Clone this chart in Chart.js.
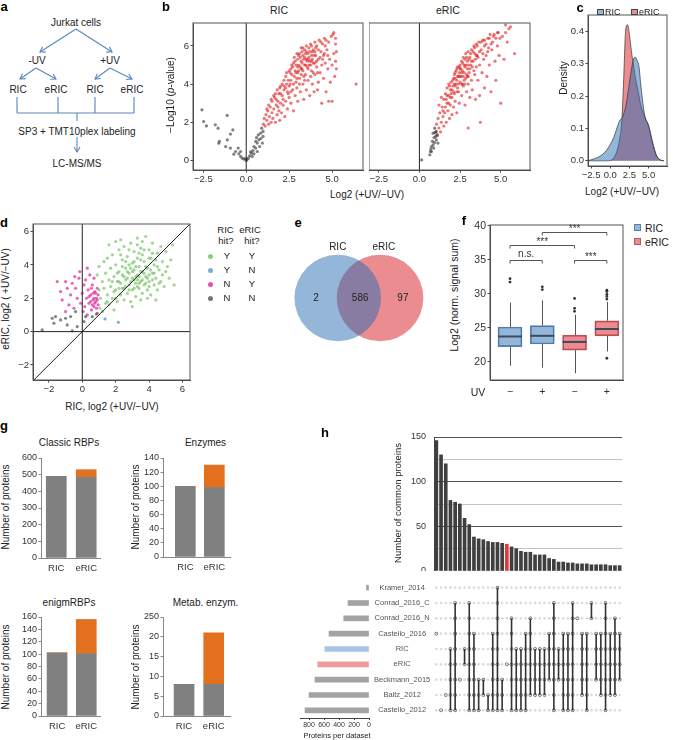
<!DOCTYPE html>
<html>
<head>
<meta charset="utf-8">
<title>RIC vs eRIC</title>
<script src="https://cdn.jsdelivr.net/npm/chart.js@4.4.1/dist/chart.umd.min.js"></script>
<style>
  body { margin: 0; background: #fff; }
  #fig { position: relative; width: 674px; height: 740px; overflow: hidden; background: #fff;
         font-family: "Liberation Sans", Arial, Helvetica, sans-serif; color: #222; }
  #fig canvas { position: absolute; }
  .t { position: absolute; white-space: nowrap; line-height: 1; z-index: 2; }
  .sq { position: absolute; box-sizing: border-box; border: 1px solid #444; z-index: 2; }
  .dot { position: absolute; width: 5px; height: 5px; border-radius: 50%; z-index: 2; }
</style>
</head>
<body>
<div id="fig">
  <!-- a: workflow -->
  <svg width="165" height="175" style="position:absolute;left:0;top:0">
    <defs>
      <marker id="ah" markerWidth="8" markerHeight="8" refX="6" refY="4" orient="auto" markerUnits="userSpaceOnUse">
        <path d="M1,1 L6,4 L1,7" fill="none" stroke="#5b86bf" stroke-width="1.1"/>
      </marker>
    </defs>
    <g stroke="#5b86bf" stroke-width="1.1" fill="none">
      <line x1="76" y1="29" x2="40" y2="52" marker-end="url(#ah)"/>
      <line x1="76" y1="29" x2="112" y2="52" marker-end="url(#ah)"/>
      <line x1="36" y1="68" x2="20" y2="79" marker-end="url(#ah)"/>
      <line x1="36" y1="68" x2="56" y2="79" marker-end="url(#ah)"/>
      <line x1="110" y1="68" x2="95" y2="79" marker-end="url(#ah)"/>
      <line x1="110" y1="68" x2="132" y2="79" marker-end="url(#ah)"/>
      <path d="M17,97 V113 M58,97 V113 M95,97 V113 M134,97 V113 M17,113 H134 M77,113 V121"/>
      <line x1="77" y1="137" x2="77" y2="152" marker-end="url(#ah)"/>
    </g>
    <g font-size="10" fill="#222" text-anchor="middle" font-family="Liberation Sans, Arial, sans-serif">
      <text x="76" y="26">Jurkat cells</text>
      <text x="37" y="63.5">-UV</text>
      <text x="110" y="63.5">+UV</text>
      <text x="18" y="93">RIC</text>
      <text x="56" y="93">eRIC</text>
      <text x="95" y="93">RIC</text>
      <text x="132" y="93">eRIC</text>
      <text x="77" y="134.5">SP3 + TMT10plex labeling</text>
      <text x="77" y="166.5">LC-MS/MS</text>
    </g>
  </svg>
</div>
<script>
// ---------- b: volcano plots [log2(+UV/-UV), -log10 p] ----------
const ricVolcanoNS = [[-2.58,2.65],[-2.48,2.04],[-2.32,1.81],[-1.8,1.87],[-1.64,1.69],[-1.56,1.0],[-1.6,0.9],
  [-1.11,2.36],[-0.92,1.38],[-0.78,1.6],[-1.1,1.08],[-1.2,0.73],[-0.92,0.65],[-0.62,0.47],[-0.43,0.35],
  [-0.33,0.21],[-0.23,0.12],[-0.14,0.07],[0,0],[-0.72,0.33],[-0.47,0.65],[-0.33,0.47],[0.12,0.12],[0.2,0.24],
  [0.31,0.38],[0.39,0.52],[0.45,0.73],[0.55,0.65],[0.64,0.91],[0.74,1.08],[0.7,1.34],[0.84,1.43],[0.9,1.69],
  [0.98,1.26],[0.78,0.73],[0.64,0.47],[0.45,0.35],[0.94,0.91],[0.98,1.52],[0.55,1.0],[0.35,0.21],[0.05,0.05],
  [-0.05,0.1],[0.6,1.2],[0.85,1.15],[0.25,0.45]];
const ricVolcanoHit = [[1.0,1.9],[1.05,2.2],[1.1,1.8],[1.15,2.4],[1.2,2.1],[1.25,2.6],[1.3,1.9],[1.35,2.3],
  [1.4,2.8],[1.45,2.0],[1.5,2.5],[1.5,3.1],[1.2,2.7],[1.3,2.9],[1.45,3.2],
  [1.55,2.2],[1.6,2.7],[1.65,3.3],[1.7,2.0],[1.7,3.5],[1.75,2.9],[1.8,2.4],[1.8,3.7],[1.85,3.1],[1.9,2.6],
  [1.9,3.5],[1.95,2.1],[2.0,3.9],[2.0,3.0],[1.6,3.4],[1.75,3.2],[1.95,3.8],
  [2.05,2.5],[2.1,3.4],[2.1,4.0],[2.15,2.9],[2.2,4.2],[2.2,3.7],[2.25,2.3],[2.3,4.4],[2.3,3.1],[2.35,4.6],
  [2.4,3.6],[2.4,2.7],[2.45,4.2],[2.5,3.9],[2.5,4.7],[2.5,3.3],[2.2,3.9],[2.35,4.0],
  [2.55,4.6],[2.6,3.0],[2.6,4.2],[2.65,5.0],[2.7,3.7],[2.7,4.9],[2.75,2.6],[2.8,4.4],[2.8,5.4],[2.85,3.4],
  [2.9,5.0],[2.9,4.1],[2.95,5.6],[3.0,4.6],[3.0,3.1],[3.0,5.3],[2.6,4.8],[2.75,5.1],[2.85,4.7],[2.95,3.8],
  [3.05,5.0],[3.1,4.3],[3.1,5.6],[3.15,3.6],[3.2,5.2],[3.2,5.9],[3.25,4.8],[3.3,4.0],[3.3,5.5],[3.35,3.2],
  [3.4,5.0],[3.4,5.8],[3.45,4.5],[3.5,5.3],[3.5,6.0],[3.5,3.7],[3.15,5.4],[3.25,5.7],[3.35,5.3],[3.45,5.6],
  [3.05,4.7],[3.3,4.7],
  [3.55,4.9],[3.6,5.6],[3.6,4.2],[3.65,5.9],[3.7,5.2],[3.7,3.4],[3.75,6.1],[3.8,4.7],[3.8,5.5],[3.85,4.0],
  [3.9,5.8],[3.9,5.1],[3.95,3.6],[4.0,6.2],[4.0,4.5],[3.65,5.4],[3.85,5.3],[3.75,4.4],
  [4.05,5.5],[4.1,4.9],[4.1,6.0],[4.15,3.7],[4.2,5.3],[4.25,6.3],[4.3,4.6],[4.35,5.7],[4.4,3.0],[4.4,5.0],
  [4.45,6.1],[4.5,4.3],[4.5,5.5],[4.2,4.1],
  [4.55,6.4],[4.6,5.1],[4.65,3.6],[4.7,5.8],[4.75,4.8],[4.8,6.2],[4.85,5.3],[4.9,4.1],[4.95,6.5],[5.0,5.0],
  [4.6,6.0],[4.8,3.1],
  [5.05,6.6],[5.1,5.6],[5.15,4.4],[5.2,6.1],[5.0,3.1],[5.2,5.2],[5.1,6.7],[5.25,5.7],[5.25,4.8],[5.2,6.4],
  [2.55,4.0],[2.65,4.5],[2.75,4.0],[2.85,5.2],[2.95,4.3],[3.05,5.5],[3.1,4.0],[3.15,4.9],[3.2,4.5],[3.25,5.1],
  [3.3,5.9],[3.35,4.4],[3.4,5.4],[3.45,5.0],[3.5,5.7],[3.55,5.2],[3.6,4.8],[3.65,5.0],[3.7,5.7],[3.75,5.0],
  [3.8,6.0],[3.85,5.7],[3.9,4.6],[3.95,5.5],[4.0,5.1],[4.05,5.9],[4.1,5.2],[4.15,4.6],[4.2,5.8],[4.3,5.4],
  [4.35,6.2],[4.45,5.3],[4.55,5.6],[4.65,6.3],[4.75,5.5],[2.45,3.5],[2.3,3.8],[2.15,3.2],[2.0,3.5],[1.85,2.8],
  [2.6,3.6],[2.9,4.6],[3.0,4.9],[3.2,4.8],[3.4,4.2],[3.6,5.3],[3.8,5.2],[4.0,5.7],
  [6.4,4.0]];
const ericVolcanoNS = [[0.14,0.03],[0.64,0.3],[0.68,0.47],[0.74,0.73],[0.84,0.82],[0.94,0.94],[1.04,1.08],
  [0.88,0.65],[0.8,1.0],[0.84,1.43],[0.94,1.69],[1.04,1.52],[1.14,0.91],[1.0,1.26],[0.74,0.47],[0.9,1.2],
  [1.1,1.35],[0.7,0.6],[0.95,1.45]];
const ericVolcanoHit = [[1.0,1.5],[1.05,1.9],[1.1,1.3],[1.15,2.2],[1.2,1.7],[1.25,2.5],[1.3,1.5],[1.35,2.0],
  [1.4,2.8],[1.45,2.3],[1.5,3.2],[1.5,1.8],[1.2,2.9],[1.35,3.3],[1.45,2.6],
  [1.55,2.5],[1.6,3.5],[1.65,2.0],[1.7,3.0],[1.7,3.8],[1.75,2.6],[1.8,3.4],[1.8,4.0],[1.85,2.2],[1.9,3.7],
  [1.9,2.9],[1.95,4.1],[2.0,3.3],[2.0,2.4],[1.65,3.2],[1.85,3.9],[1.95,3.5],
  [2.05,4.2],[2.1,3.6],[2.1,2.8],[2.15,4.5],[2.2,3.9],[2.2,3.1],[2.25,4.7],[2.3,4.2],[2.3,2.5],[2.35,4.9],
  [2.4,3.6],[2.4,4.4],[2.45,3.0],[2.5,4.8],[2.5,4.1],[2.5,5.0],[2.2,4.3],[2.35,3.8],[2.45,4.6],[2.15,4.0],
  [2.55,4.4],[2.6,5.2],[2.6,3.4],[2.65,4.7],[2.7,3.9],[2.7,5.4],[2.75,4.2],[2.8,2.9],[2.8,4.9],[2.85,5.6],
  [2.9,3.6],[2.9,4.5],[2.95,5.2],[3.0,4.0],[3.0,5.7],[3.0,1.7],[2.65,4.0],[2.75,4.6],[2.85,4.3],[2.95,4.8],
  [3.05,4.6],[3.1,5.4],[3.1,3.3],[3.15,5.0],[3.2,5.8],[3.2,4.2],[3.25,3.7],[3.3,5.2],[3.35,6.0],[3.4,4.5],
  [3.4,5.6],[3.45,3.2],[3.5,4.9],[3.5,6.1],[3.25,4.9],[3.45,5.3],
  [3.55,5.5],[3.6,4.2],[3.65,6.2],[3.7,5.0],[3.7,3.4],[3.75,2.0],[3.8,5.8],[3.85,4.6],[3.9,6.3],[3.95,5.3],
  [4.0,3.8],[4.0,6.0],
  [4.1,5.5],[4.15,4.4],[4.2,6.4],[4.3,5.0],[4.35,6.6],[4.4,3.6],[4.45,5.8],[4.5,6.2],[4.25,5.9],
  [4.6,6.6],[4.65,5.2],[4.7,4.2],[4.8,6.0],[4.85,6.7],[4.9,5.5],[5.0,3.0],[4.95,6.4],
  [5.1,6.5],[5.2,5.3],[5.3,7.1],[5.4,6.2],[5.5,6.9],[5.6,7.0],[5.85,5.6],[5.3,6.7],
  [2.0,3.7],[2.05,3.9],[2.1,4.3],[2.15,3.5],[2.2,4.6],[2.25,4.0],[2.3,3.6],[2.35,4.4],[2.4,4.0],[2.45,4.9],
  [2.5,4.4],[2.55,4.8],[2.6,4.0],[2.65,5.1],[2.7,4.4],[2.75,5.0],[2.8,4.0],[2.85,5.0],[2.9,5.4],[2.95,4.4],
  [3.0,5.0],[3.05,5.3],[3.1,4.8],[3.15,5.6],[3.2,5.2],[3.3,5.7],[3.35,4.7],[3.4,5.9],[3.5,5.5],[3.55,6.0],
  [3.6,5.4],[3.7,5.7],[3.8,6.2],[3.9,5.6],[4.0,6.3],[4.1,6.1],[4.2,5.7],[4.3,6.4],[4.4,6.1],[4.55,6.5],
  [4.7,6.4],[4.8,6.7],[1.8,3.0],[1.9,3.3],[1.6,2.8],[1.7,3.4],[2.3,4.8],[2.6,4.6],[2.8,5.3],[3.0,4.4]];

// ---------- c: density of log2(+UV/-UV) ----------
const densX    = [-3,-2.5,-2,-1.5,-1,-0.5,0,0.5,1,1.25,1.5,1.75,2,2.25,2.5,2.75,3,3.25,3.5,3.75,4,4.5,5,5.5,6,6.5,7];
const densRIC  = [0,0.003,0.007,0.012,0.02,0.032,0.05,0.075,0.11,0.125,0.13,0.145,0.165,0.2,0.24,0.28,0.31,0.32,0.31,0.29,0.23,0.14,0.11,0.06,0.018,0.003,0];
const densERIC = [0,0,0,0,0,0,0.001,0.01,0.04,0.07,0.12,0.25,0.40,0.42,0.39,0.34,0.30,0.26,0.23,0.2,0.17,0.135,0.105,0.055,0.017,0.003,0];

// ---------- d: RIC vs eRIC log2 ratios ----------
const dBoth = [[0.9,3.4],[1.0,3.9],[1.0,2.5],[1.05,1.4],[1.1,2.0],[1.2,3.0],[1.2,1.2],[1.3,2.6],[1.3,4.2],
  [1.4,1.7],[1.4,3.5],[1.5,2.2],[1.5,4.4],[1.6,1.6],[1.6,3.1],[1.7,2.7],[1.7,3.8],[1.8,2.0],[1.8,4.6],[1.9,3.3],
  [1.9,1.3],[2.0,2.5],[2.0,4.0],[2.1,3.0],[2.1,1.8],[2.2,4.9],[2.2,3.6],[2.3,2.2],[2.3,2.9],[2.4,4.3],[2.4,3.4],
  [2.5,1.9],[2.5,2.6],[2.5,5.1],[2.6,3.8],[2.6,3.1],[2.7,2.3],[2.7,4.5],[2.8,2.8],[2.8,3.5],[2.9,5.3],[2.9,1.8],
  [3.0,3.2],[3.0,4.1],[3.0,2.5],[3.1,4.8],[3.1,3.7],[3.2,2.9],[3.2,2.1],[3.3,5.6],[3.3,3.4],[3.3,4.4],[3.4,2.6],
  [3.4,3.9],[3.5,3.0],[3.5,5.0],[3.6,2.3],[3.6,3.6],[3.6,4.6],[3.7,2.8],[3.7,4.2],[3.8,5.7],[3.8,3.3],[3.9,2.5],
  [3.9,3.8],[4.0,4.9],[4.0,3.0],[4.1,4.4],[4.1,2.2],[4.2,3.5],[4.2,5.3],[4.3,2.8],[4.3,4.0],[4.4,3.2],[4.5,4.7],
  [4.5,2.5],[4.6,3.7],[4.7,5.1],[4.7,3.0],[4.8,4.2],[4.9,2.7],[5.0,3.6],[5.0,4.8],[5.2,3.2],[5.3,4.3],[5.5,2.8],
  [5.4,5.2],[2.3,5.5],[1.6,5.2],[2.0,5.4],[3.5,1.9],[4.4,1.9],[2.9,3.0],[3.2,3.3],[2.7,3.2],[3.4,2.9],[3.1,2.6],
  [2.6,2.7],[3.8,2.9],[3.3,3.1],[2.4,2.6],[2.2,2.6],[4.0,3.4],[4.6,2.9],[1.9,2.4],[2.8,4.0],[3.5,4.3],
  [2.2,3.0],[2.5,3.3],[2.7,3.6],[2.8,2.5],[3.0,3.6],[3.1,3.1],[3.2,3.9],[3.3,2.7],[3.4,3.3],[3.5,3.6],
  [3.6,3.1],[3.7,3.5],[3.8,3.9],[3.9,3.2],[4.0,2.7],[4.1,3.7],[4.2,3.1],[4.3,3.5],[4.4,4.3],[3.1,4.2],
  [2.9,3.8],[2.6,4.2],[2.4,3.9],[2.1,3.5],[2.3,4.6],[3.4,4.7],[3.7,4.9],[4.0,4.4],[4.2,4.7],[3.3,5.2],
  [3.6,5.4],[2.8,4.9],[1.8,3.0],[2.0,2.0],[1.5,1.8],[3.0,1.5],[3.9,2.0],[4.8,3.4],[5.1,3.9],[4.5,3.9]];
const dRicOnly = [[1.36,0.76],[2.16,0.56]];
const dEricOnly = [[-1.5,3.0],[-1.0,3.0],[-1.3,2.4],[-1.2,1.9],[-0.9,2.6],[-0.8,1.6],[-0.7,2.2],[-0.6,2.9],
  [-0.5,1.4],[-0.4,2.6],[-0.3,2.0],[-0.2,3.2],[-0.15,3.6],[-0.1,1.7],[0.0,2.3],[0.05,1.2],[0.1,2.8],[0.15,1.5],
  [0.2,3.1],[0.25,2.0],[0.3,3.8],[0.3,1.0],[0.35,2.5],[0.4,1.7],[0.45,3.4],[0.5,2.2],[0.55,1.3],[0.6,2.8],
  [0.65,1.9],[0.7,1.5],[0.75,2.4],[0.8,1.8],[0.85,2.0],[0.9,1.1],[0.9,2.6],[0.95,1.6],[0.7,3.2],[0.55,2.6],
  [-1.0,1.2],[-0.45,3.3],[0.6,1.6],[0.7,2.0],[0.8,2.3],[0.9,1.9],[0.75,1.7],[0.85,1.4],[0.65,2.3],[0.5,1.8],
  [0.95,2.2],[0.4,2.1]];
const dNone = [[-2.4,0.1],[-1.8,0.8],[-1.6,0.9],[-1.3,0.7],[-1.0,0.8],[-0.7,0.9],[-0.6,0.05],[-0.4,1.2],
  [-0.3,0.3],[0.1,0.6],[0.2,0.9],[0.6,0.9],[0.85,1.05],[-1.7,0.5],[-0.9,0.4]];

// ---------- e: overlap of hits ----------
const vennNames = ['RIC', 'eRIC'];
const vennCounts = [2, 586, 97];

// ---------- f: box plots, log2 normalised signal sum ----------
const boxGroups = ['RIC', 'RIC', 'eRIC', 'eRIC'];
const uvTicks = ['\u2212', '+', '\u2212', '+'];
const boxLow  = [19.4, 19.1, 18.3, 21.5];
const boxQ1   = [22.2, 22.6, 21.7, 23.8];
const boxMed  = [23.7, 23.8, 22.9, 24.8];
const boxQ3   = [25.1, 25.3, 23.9, 26.0];
const boxHigh = [28.7, 29.0, 26.9, 28.8];
const boxOutliers = [[1,32.2],[1,31.7],[2,31.0],[2,30.6],[3,29.3],[3,27.85],[3,27.4],
  [4,30.5],[4,30.3],[4,29.9],[4,29.6],[4,29.2],[4,20.5]];
const sigFrom = [1, 1, 3, 2];
const sigTo   = [2, 3, 4, 4];
const sigY    = [35.0, 37.1, 35.0, 39.1];
const sigText = ['n.s.', '***', '***', '***'];

// ---------- g: protein classes ----------
const gCats = ['RIC', 'eRIC'];
const classicShared = [490, 484], classicExtra = [0, 46];
const enzShared = [100, 98],      enzExtra = [0, 32];
const enigmShared = [102, 101],   enigmExtra = [0, 55];
const metabShared = [8, 8],       metabExtra = [0, 13];
const metabTickLabels = ['0', '5', '10', '15', '20', '250'];

// ---------- h: UpSet ----------
const upsetSetNames = ['Kramer_2014','Conrad_2016_C','Conrad_2016_N','Castello_2016','RIC','eRIC',
  'Beckmann_2015','Baltz_2012','Castello_2012'];
const upsetSetSizes = [33, 280, 337, 533, 588, 683, 720, 800, 853];
const upsetCounts = [146,130,120,79,77,75,59,52,38,36,35,33,32,32,31,30,27,25,22,21,21,18,18,18,14,13,
  10,10,9,9,8,8,8,7,7,7,7,6,6,6];
const upsetMembers = [[3],[8],[7],[4,5,6,7,8],[1,2,3,4,5,6,7,8],[6],[4,5],[1,2,3,4,5,6,7,8],[3,4,5,6,7,8],
  [6,7,8],[6,7],[7,8],[3,4,5,6,7,8],[0,1,2,3,4,5,6,7,8],[6,7,8],[5],[2,3,4,5,6,7,8],[4,5,6,7,8],[4,5,6,7,8],
  [3,4,5,6,7,8],[2,3,4,5,6,7],[4,5,6,7],[4,5,6,7],[4,5,6,7],[3,4,5,6],[1,2,3,4,5,6,7,8],[4,5,6],
  [3,4,5,6,7,8],[3,4,5,6,7,8],[1,2,3,4,5,6,7,8],[2],[3,4,5,6,7],[3,4,5,6,7,8],[1,2],[3,4,5,6],[3,4,5,6,7],
  [1,2,3,4,5,6,7,8],[3,4,5,6,7],[2,3,4,5,6,7],[3,4,5,6]];

// ---------- setup ----------
const FONT = "'Liberation Sans', Arial, Helvetica, sans-serif";
Chart.defaults.font.family = FONT;
Chart.defaults.font.size = 9.5;
Chart.defaults.color = '#333';
Chart.defaults.animation = false;
Chart.defaults.events = [];
Chart.defaults.responsive = false;
Chart.defaults.maintainAspectRatio = false;
Chart.defaults.plugins.legend.display = false;
Chart.defaults.plugins.tooltip.enabled = false;

const fig = document.getElementById('fig');
const MINUS = '\u2212';
const fmt0 = v => (v < 0 ? MINUS : '') + Math.abs(v);
const fmt1 = v => (v < 0 ? MINUS : '') + Math.abs(v).toFixed(1);
const xy = arr => arr.map(p => ({x: p[0], y: p[1]}));

const BLUE = 'rgba(40,110,180,0.5)';
const RED = 'rgba(215,25,35,0.5)';

function lin(min, max, step, fmt) {
  return {
    type: 'linear', min: min, max: max, offset: false,
    grid: {drawOnChartArea: false, tickLength: 2.5, color: '#444', offset: false},
    border: {color: '#444'},
    ticks: {stepSize: step, includeBounds: false, padding: 1.5, maxRotation: 0, minRotation: 0,
            autoSkip: false, callback: fmt || (v => v)}
  };
}

// plot = [left, top, right, bottom] of the plot area on the page, m = [top, right, bottom, left] margins
function mk(plot, m, cfg) {
  const [l, t, r, b] = plot;
  const W = Math.round(r - l + m[1] + m[3]), H = Math.round(b - t + m[0] + m[2]);
  const cv = document.createElement('canvas');
  cv.width = W; cv.height = H;
  cv.style.left = (l - m[3]) + 'px'; cv.style.top = (t - m[0]) + 'px';
  cv.style.width = W + 'px'; cv.style.height = H + 'px';
  fig.appendChild(cv);
  const side = {top: 0, right: 1, bottom: 2, left: 3};
  const pad = {top: m[0], right: m[1], bottom: m[2], left: m[3]};
  const sc = cfg.options.scales;
  for (const k in sc) {
    const pos = sc[k].position || (k === 'x' ? 'bottom' : 'left');
    const size = m[side[pos]];
    pad[pos] = 0;
    sc[k].afterFit = ax => {
      if (ax.isHorizontal()) { ax.height = size; ax.paddingLeft = 0; ax.paddingRight = 0; }
      else { ax.width = size; ax.paddingTop = 0; ax.paddingBottom = 0; }
    };
  }
  cfg.options.layout = {padding: pad, autoPadding: false};
  return new Chart(cv, cfg);
}

function label(html, x, y, o) {
  o = o || {};
  const d = document.createElement('div');
  d.className = 't';
  d.innerHTML = html;
  d.style.left = x + 'px'; d.style.top = y + 'px';
  d.style.fontSize = (o.size || 9.5) + 'px';
  if (o.bold) d.style.fontWeight = 'bold';
  if (o.color) d.style.color = o.color;
  const ax = o.align === 'left' ? '0' : '-50%';
  d.style.transform = 'translate(' + ax + ',-50%)' + (o.rot ? ' rotate(' + o.rot + 'deg)' : '');
  fig.appendChild(d);
}
function square(x, y, size, fill, edge) {
  const s = document.createElement('div');
  s.className = 'sq';
  Object.assign(s.style, {left: x + 'px', top: y + 'px', width: size + 'px', height: size + 'px',
                          background: fill, borderColor: edge});
  fig.appendChild(s);
}

// plugins
const frame = {
  id: 'frame',
  afterDraw(c) {
    const a = c.chartArea, ctx = c.ctx;
    ctx.save(); ctx.strokeStyle = '#555'; ctx.lineWidth = 1;
    ctx.strokeRect(a.left, a.top, a.right - a.left, a.bottom - a.top);
    ctx.restore();
  }
};
function refLines(vertical, horizontal, diagonal) {
  return {
    id: 'refLines',
    afterDatasetsDraw(c) {
      const {ctx, chartArea: a, scales: {x, y}} = c;
      ctx.save();
      ctx.beginPath(); ctx.rect(a.left, a.top, a.right - a.left, a.bottom - a.top); ctx.clip();
      ctx.strokeStyle = '#222'; ctx.lineWidth = 1;
      ctx.beginPath();
      if (vertical) { const px = x.getPixelForValue(0); ctx.moveTo(px, a.top); ctx.lineTo(px, a.bottom); }
      if (horizontal) { const py = y.getPixelForValue(0); ctx.moveTo(a.left, py); ctx.lineTo(a.right, py); }
      if (diagonal) {
        const v0 = Math.min(x.min, y.min), v1 = Math.max(x.max, y.max);
        ctx.moveTo(x.getPixelForValue(v0), y.getPixelForValue(v0));
        ctx.lineTo(x.getPixelForValue(v1), y.getPixelForValue(v1));
      }
      ctx.stroke(); ctx.restore();
    }
  };
}

// ---------- b ----------
function volcano(plot, m, ns, hit, showY) {
  const y = lin(-0.5, 7.2, 2, fmt0);
  if (!showY) y.display = false;
  mk(plot, m, {
    type: 'scatter',
    data: {datasets: [
      {data: xy(ns), pointRadius: 1.6, borderWidth: 0, backgroundColor: 'rgba(60,60,60,0.65)'},
      {data: xy(hit), pointRadius: 1.6, borderWidth: 0, backgroundColor: 'rgba(222,30,30,0.6)'}
    ]},
    options: {scales: {x: lin(-3.1, 6.8, 2.5, fmt1), y: y}},
    plugins: [frame, refLines(true, false, false)]
  });
}
volcano([193, 23, 363, 170], [3, 2, 16, 20], ricVolcanoNS, ricVolcanoHit, true);
volcano([369, 23, 530, 170], [3, 2, 16, 0], ericVolcanoNS, ericVolcanoHit, false);
label('RIC', 279, 10, {size: 10.5});
label('eRIC', 448, 10, {size: 10.5});
label('\u2212Log10 (<i>p</i>-value)', 171, 95, {size: 10, rot: -90});
label('Log2 (+UV/\u2212UV)', 367, 195, {size: 10});

// ---------- c ----------
const cx = lin(-2.9, 7.4, 2.5, fmt1);
const cy = lin(-0.016, 0.45, 0.1, v => v.toFixed(1));
mk([588, 15, 667, 166], [3, 4, 14, 22], {
  type: 'line',
  data: {datasets: [
    {data: densX.map((x, i) => ({x: x, y: densRIC[i]})), fill: 'origin', backgroundColor: BLUE,
     borderColor: '#333', borderWidth: 0.7, pointRadius: 0, cubicInterpolationMode: 'monotone'},
    {data: densX.map((x, i) => ({x: x, y: densERIC[i]})), fill: 'origin', backgroundColor: RED,
     borderColor: '#333', borderWidth: 0.7, pointRadius: 0, cubicInterpolationMode: 'monotone'}
  ]},
  options: {scales: {x: cx, y: cy}},
  plugins: [frame]
});
label('Density', 564, 78, {size: 10, rot: -90});
label('Log2 (+UV/\u2212UV)', 622, 192, {size: 10});
square(597, 8.5, 6.5, BLUE, '#444');
label('RIC', 605, 12, {size: 9, align: 'left'});
square(631, 8.5, 6.5, RED, '#444');
label('eRIC', 639, 12, {size: 9, align: 'left'});

// ---------- d ----------
mk([33, 224, 190, 380], [3, 2, 14, 22], {
  type: 'scatter',
  data: {datasets: [
    {data: xy(dNone), pointRadius: 1.6, borderWidth: 0, backgroundColor: 'rgba(90,90,90,0.75)'},
    {data: xy(dBoth), pointRadius: 1.6, borderWidth: 0, backgroundColor: 'rgba(110,190,90,0.65)'},
    {data: xy(dEricOnly), pointRadius: 1.6, borderWidth: 0, backgroundColor: 'rgba(225,50,160,0.75)'},
    {data: xy(dRicOnly), pointRadius: 1.6, borderWidth: 0, backgroundColor: 'rgba(120,165,210,0.95)'}
  ]},
  options: {scales: {x: lin(-2.95, 6.45, 2, fmt0), y: lin(-2.9, 6.45, 2, fmt0)}},
  plugins: [frame, refLines(true, true, true)]
});
label('eRIC, log2 ( +UV/\u2212UV)', 6, 299, {size: 10, rot: -90});
label('RIC, log2 (+UV/\u2212UV)', 112, 407, {size: 10});
// d legend
label('RIC', 225.5, 230);
label('hit?', 226, 241);
label('eRIC', 250, 230);
label('hit?', 252, 241);
const dLegColors = ['rgba(110,190,90,0.8)', 'rgba(120,165,210,0.95)', 'rgba(225,50,160,0.85)', 'rgba(90,90,90,0.85)'];
const dLegRic = ['Y', 'Y', 'N', 'N'], dLegEric = ['Y', 'N', 'Y', 'N'];
[256, 270, 284.3, 298.3].forEach((yy, i) => {
  const s = document.createElement('div');
  s.className = 'dot'; s.style.left = '207.5px'; s.style.top = (yy - 2.5) + 'px'; s.style.background = dLegColors[i];
  fig.appendChild(s);
  label(dLegRic[i], 227, yy);
  label(dLegEric[i], 252, yy);
});

// ---------- e ----------
const vennText = {
  id: 'vennText',
  afterDatasetsDraw(c) {
    const {ctx, scales: {x, y}} = c;
    ctx.save(); ctx.fillStyle = '#222'; ctx.font = '10px ' + FONT;
    ctx.textAlign = 'center'; ctx.textBaseline = 'middle';
    const countX = [-0.51, 0.53, 1.54];
    vennCounts.forEach((n, i) => ctx.fillText(String(n), x.getPixelForValue(countX[i]), y.getPixelForValue(0)));
    const nameX = [0, 1.09];
    vennNames.forEach((s, i) => ctx.fillText(s, x.getPixelForValue(nameX[i]), y.getPixelForValue(0.93)));
    ctx.restore();
  }
};
mk([290, 243, 430, 353], [12, 0, 0, 0], {
  type: 'scatter',
  data: {datasets: [
    {data: [{x: 0, y: 0}], pointRadius: 43.3, borderWidth: 0, backgroundColor: BLUE, clip: false},
    {data: [{x: 1, y: 0}], pointRadius: 43.3, borderWidth: 0, backgroundColor: RED, clip: false}
  ]},
  options: {scales: {
    x: {type: 'linear', display: false, min: -1.128, max: 2.18},
    y: {type: 'linear', display: false, min: -1, max: 1}
  }},
  plugins: [vennText]
});

// ---------- f ----------
const boxFill = {RIC: 'rgba(40,110,180,0.5)', eRIC: 'rgba(215,25,35,0.5)'};
const boxEdge = {RIC: '#5b7fa6', eRIC: '#b45a60'};
const boxParts = {
  id: 'boxParts',
  beforeDatasetsDraw(c) {
    const {ctx, scales: {x, y}} = c;
    ctx.save(); ctx.strokeStyle = '#555'; ctx.lineWidth = 1;
    boxLow.forEach((lo, i) => {
      const px = Math.round(x.getPixelForValue(i + 1)) + 0.5;
      ctx.beginPath();
      ctx.moveTo(px, y.getPixelForValue(lo)); ctx.lineTo(px, y.getPixelForValue(boxQ1[i]));
      ctx.moveTo(px, y.getPixelForValue(boxQ3[i])); ctx.lineTo(px, y.getPixelForValue(boxHigh[i]));
      ctx.stroke();
    });
    ctx.restore();
  },
  afterDatasetsDraw(c) {
    const {ctx, scales: {x, y}} = c;
    const bars = c.getDatasetMeta(0).data;
    ctx.save();
    ctx.strokeStyle = '#3d4b5e'; ctx.lineWidth = 2;
    boxMed.forEach((md, i) => {
      const px = x.getPixelForValue(i + 1), hw = bars[i].width / 2, py = y.getPixelForValue(md);
      ctx.beginPath(); ctx.moveTo(px - hw, py); ctx.lineTo(px + hw, py); ctx.stroke();
    });
    ctx.strokeStyle = '#555'; ctx.lineWidth = 1;
    ctx.fillStyle = '#333'; ctx.font = '10px ' + FONT; ctx.textAlign = 'center'; ctx.textBaseline = 'bottom';
    sigY.forEach((sy, i) => {
      const x0 = x.getPixelForValue(sigFrom[i]), x1 = x.getPixelForValue(sigTo[i]);
      const py = Math.round(y.getPixelForValue(sy)) + 0.5;
      ctx.beginPath();
      ctx.moveTo(x0, py + 3); ctx.lineTo(x0, py); ctx.lineTo(x1, py); ctx.lineTo(x1, py + 3);
      ctx.stroke();
      ctx.fillText(sigText[i], (x0 + x1) / 2, py - (sigText[i] === '***' ? -1.5 : 1));
    });
    ctx.restore();
  }
};
const fx = lin(0.38, 4.5, 1, v => uvTicks[v - 1] || '');
fx.grid.drawTicks = false; fx.ticks.padding = 6; fx.ticks.font = {size: 10.5};
const fy = lin(17.3, 40.1, 5, fmt0);
fy.ticks.font = {size: 10.5};
mk([490, 225, 623, 380], [6, 2, 14, 24], {
  type: 'bar',
  data: {datasets: [
    {type: 'bar', data: boxQ1.map((q, i) => ({x: i + 1, y: [q, boxQ3[i]]})),
     backgroundColor: boxGroups.map(g => boxFill[g]), borderColor: boxGroups.map(g => boxEdge[g]),
     borderWidth: 1, borderSkipped: false, barThickness: 24},
    {type: 'scatter', data: xy(boxOutliers), pointRadius: 1.4, borderWidth: 0, backgroundColor: '#333'}
  ]},
  options: {scales: {x: fx, y: fy}},
  plugins: [frame, boxParts]
});
label('Log2 (norm. signal sum)', 454, 295, {size: 10.5, rot: -90});
label('UV', 478, 392, {size: 10.5});
square(634, 224, 7, boxFill.RIC, boxEdge.RIC);
label('RIC', 645, 227.5, {size: 10.5, align: 'left'});
square(634, 238, 7, boxFill.eRIC, boxEdge.eRIC);
label('eRIC', 645, 241.5, {size: 10.5, align: 'left'});

// ---------- g ----------
function gPanel(plot, xr, shared, extra, ymax, step, tickFmt) {
  const gx = lin(xr[0], xr[1], 1, v => gCats[v - 1] || '');
  gx.stacked = true; gx.grid.drawTicks = false; gx.ticks.padding = 5; gx.border.color = '#888';
  const gy = lin(0, ymax, step, tickFmt);
  gy.stacked = true; gy.border.color = '#888'; gy.grid.color = '#888'; gy.ticks.font = {size: 9};
  mk(plot, [6, 2, 18, 24], {
    type: 'bar',
    data: {datasets: [
      {data: shared.map((v, i) => ({x: i + 1, y: v})), backgroundColor: '#808080', barThickness: 20},
      {data: extra.map((v, i) => ({x: i + 1, y: v})), backgroundColor: '#e2701f', barThickness: 20}
    ]},
    options: {scales: {x: gx, y: gy}}
  });
}
gPanel([41, 457.7, 100, 557.3], [0.49, 2.46], classicShared, classicExtra, 600, 100);
gPanel([163, 458.3, 230, 557.3], [0.23, 2.54], enzShared, enzExtra, 140, 20);
gPanel([41, 616.7, 100, 716], [0.45, 2.47], enigmShared, enigmExtra, 160, 20);
gPanel([163, 616.7, 230, 716], [0.29, 2.55], metabShared, metabExtra, 25, 5, v => metabTickLabels[v / 5]);
label('Classic RBPs', 69, 443, {size: 10});
label('Enzymes', 205.5, 443, {size: 10});
label('enigmRBPs', 69, 603, {size: 10});
label('Metab. enzym.', 205.5, 603, {size: 10});
[[6, 507], [136, 507], [6, 667], [136, 667]].forEach(p => label('Number of proteins', p[0], p[1], {size: 10, rot: -90}));

// ---------- h ----------
const eRicRow = upsetSetNames.indexOf('eRIC');
mk([434, 437.3, 622, 571.7], [7, 2, 0, 34], {
  type: 'bar',
  data: {datasets: [{
    data: upsetCounts.map((v, i) => ({x: i, y: v})),
    backgroundColor: upsetMembers.map(m => (m.length === 1 && m[0] === eRicRow) ? '#e03a3a' : '#3f3f3f'),
    barThickness: 3
  }]},
  options: {scales: {
    x: {type: 'linear', min: -0.5, max: 39.5, display: false, offset: false},
    y: {type: 'linear', min: 0, max: 150,
        ticks: {stepSize: 25, padding: 8, font: {size: 9}, callback: v => (v % 50 === 0 ? v : '')},
        grid: {drawTicks: false, color: ctx => (ctx.tick && ctx.tick.value % 50 === 0) ? '#555' : '#c4c4c4'},
        border: {color: '#444'}}
  }}
});
label('Number of common proteins', 398, 503, {size: 9.5, rot: -90});

const upsetLinks = {
  id: 'upsetLinks',
  afterDatasetDraw(c, args) {
    if (args.index !== 0) return;
    const {ctx, scales: {x, y}} = c;
    ctx.save(); ctx.strokeStyle = '#333'; ctx.lineWidth = 1.6;
    upsetMembers.forEach((m, i) => {
      if (m.length < 2) return;
      const px = x.getPixelForValue(i);
      ctx.beginPath();
      ctx.moveTo(px, y.getPixelForValue(Math.min(...m)));
      ctx.lineTo(px, y.getPixelForValue(Math.max(...m)));
      ctx.stroke();
    });
    ctx.restore();
  }
};
const gridDots = [], memberDots = [];
upsetCounts.forEach((_, i) => upsetSetNames.forEach((_, r) => gridDots.push({x: i, y: r})));
upsetMembers.forEach((m, i) => m.forEach(r => memberDots.push({x: i, y: r})));
mk([434, 580.3, 622, 718.7], [0, 0, 0, 0], {
  type: 'scatter',
  data: {datasets: [
    {data: gridDots, pointRadius: 1.3, borderWidth: 0, backgroundColor: '#dadada'},
    {data: memberDots, pointRadius: 1.8, borderWidth: 0, backgroundColor: '#333'}
  ]},
  options: {scales: {
    x: {type: 'linear', display: false, min: -0.5, max: 39.5},
    y: {type: 'linear', display: false, min: -0.5, max: 8.5, reverse: true}
  }},
  plugins: [upsetLinks]
});

const hx = lin(0, 920, 200, v => v);
hx.reverse = true; hx.ticks.font = {size: 7}; hx.ticks.padding = 1; hx.grid.tickLength = 2;
mk([300, 580.3, 369, 718.7], [0, 65, 14, 0], {
  type: 'bar',
  data: {labels: upsetSetNames, datasets: [{
    data: upsetSetSizes,
    backgroundColor: upsetSetNames.map(n => n === 'RIC' ? '#a7c4e2' : n === 'eRIC' ? '#ee9a9d' : '#a3a3a3'),
    barThickness: 5
  }]},
  options: {indexAxis: 'y', scales: {
    x: hx,
    y: {position: 'right', ticks: {crossAlign: 'center', padding: 5, font: {size: 7.5}, color: '#555'},
        grid: {display: false, drawTicks: false}, border: {display: false}}
  }}
});
label('Proteins per dataset', 337, 736, {size: 7.5});

// ---------- panel letters ----------
[['a', 4, 6], ['b', 166, 6], ['c', 580, 7], ['d', 4, 222], ['e', 298, 222], ['f', 464, 220], ['g', 4, 425], ['h', 325, 432]]
  .forEach(p => label(p[0], p[1], p[2], {size: 13, bold: true, color: '#000'}));
</script>
</body>
</html>
